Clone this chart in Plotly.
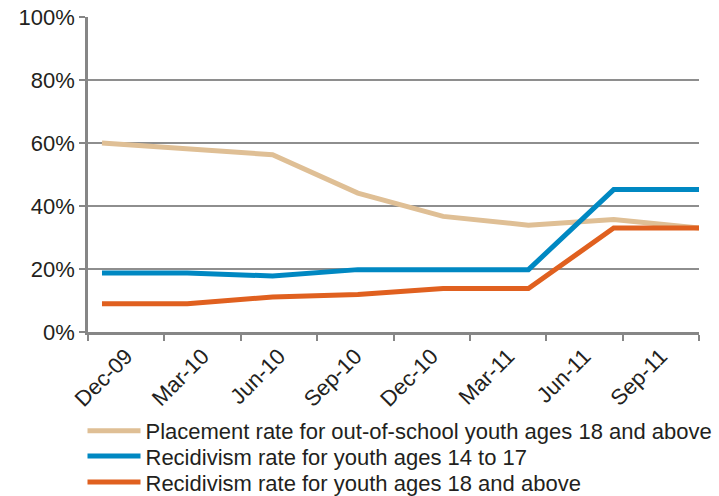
import plotly.graph_objects as go

# Quarterly reporting periods
quarters = ["Dec-09", "Mar-10", "Jun-10", "Sep-10", "Dec-10", "Mar-11", "Jun-11", "Sep-11"]

# Rates (fractions)
placement_18_plus = [0.600, 0.583, 0.563, 0.441, 0.367, 0.339, 0.357, 0.330]
recidivism_14_17 = [0.187, 0.187, 0.178, 0.198, 0.198, 0.198, 0.452, 0.452]
recidivism_18_plus = [0.090, 0.090, 0.111, 0.119, 0.138, 0.138, 0.330, 0.330]

series_names = [
    "Placement rate for out-of-school youth ages 18 and above",
    "Recidivism rate for youth ages 14 to 17",
    "Recidivism rate for youth ages 18 and above",
]
series_colors = ["#DFBF95", "#0088C2", "#E0601F"]
legend_ids = ["legend", "legend2", "legend3"]
legend_rows_y = [0.131, 0.080, 0.028]

y_tick_vals = [0, 0.2, 0.4, 0.6, 0.8, 1.0]

FONT = "Liberation Sans, Arial, sans-serif"
TEXT = "#231F20"
AXIS = "#868686"
FS = 22

fig = go.Figure()

# empty trace that gives the labelled category axis its quarters
fig.add_trace(go.Scatter(
    x=quarters, y=[None] * len(quarters), mode="lines",
    showlegend=False, hoverinfo="skip", xaxis="x", yaxis="y",
))

for name, vals, color, lg in zip(series_names,
                                 [placement_18_plus, recidivism_14_17, recidivism_18_plus],
                                 series_colors, legend_ids):
    fig.add_trace(go.Scatter(
        x=quarters, y=vals, name=name, mode="lines",
        line=dict(color=color, width=5, shape="linear"),
        xaxis="x2", yaxis="y", legend=lg,
        hovertemplate="%{x}: %{y:.0%}<extra></extra>",
    ))

legend_style = dict(
    orientation="v", x=-0.009, xanchor="left", yanchor="middle",
    yref="container",
    font=dict(family=FONT, size=FS, color=TEXT),
    itemwidth=53, bgcolor="rgba(0,0,0,0)",
)

fig.update_layout(
    width=719, height=496,
    margin=dict(l=88, r=20, t=17, b=164, autoexpand=False),
    paper_bgcolor="white", plot_bgcolor="white",
    font=dict(family=FONT, size=FS, color=TEXT),
    showlegend=True,
    legend=dict(legend_style, y=legend_rows_y[0]),
    legend2=dict(legend_style, y=legend_rows_y[1]),
    legend3=dict(legend_style, y=legend_rows_y[2]),
    # labelled category axis: labels centred on each quarter, ticks on boundaries
    xaxis=dict(
        type="category", range=[-0.5, len(quarters) - 0.5],
        tickson="boundaries", tickangle=-45,
        ticks="outside", ticklen=6, tickwidth=2, tickcolor=AXIS,
        showgrid=False, zeroline=False,
        showline=True, linecolor=AXIS, linewidth=2.5,
        tickfont=dict(family=FONT, size=FS, color=TEXT),
        fixedrange=True,
    ),
    # data axis for the series
    xaxis2=dict(
        type="category", overlaying="x", visible=False,
        range=[-0.164, 7.0], fixedrange=True,
    ),
    yaxis=dict(
        range=[0, 1.0], tickvals=y_tick_vals, tickformat=".0%",
        showgrid=True, gridcolor="#8E8E8E", gridwidth=1.5,
        zeroline=False,
        showline=True, linecolor=AXIS, linewidth=2.5,
        ticks="outside", ticklen=6, tickwidth=2, tickcolor=AXIS,
        tickfont=dict(family=FONT, size=FS, color=TEXT),
        fixedrange=True,
    ),
)

fig.write_html("out.html")
